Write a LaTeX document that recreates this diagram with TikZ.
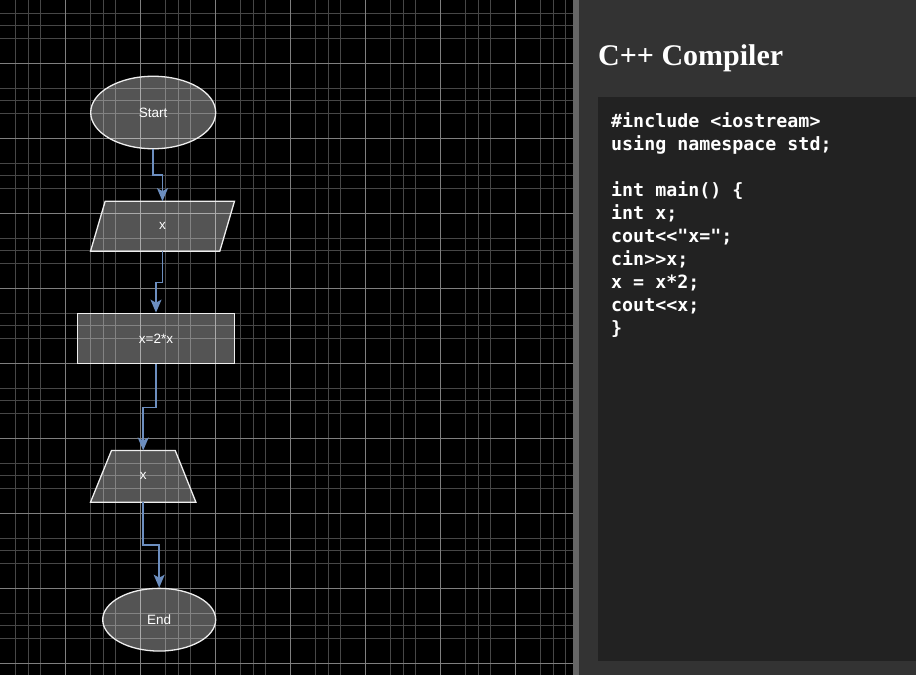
\documentclass[tikz,border=0pt]{standalone}
\usepackage{fontspec}
\setmainfont{Liberation Sans}
\newfontfamily\titlefont{Liberation Serif}
\newfontfamily\codefont{DejaVu Sans Mono}
\usetikzlibrary{arrows.meta,shapes.geometric,calc}
\definecolor{minorgrid}{HTML}{474747}
\definecolor{majorgrid}{HTML}{7F7F7F}
\definecolor{sepgray}{HTML}{666666}
\definecolor{panelgray}{HTML}{333333}
\definecolor{codebg}{HTML}{222222}
\definecolor{shapeline}{HTML}{EEEEEE}
\definecolor{connblue}{HTML}{6C8EBF}
\tikzset{
  shapebox/.style={draw=shapeline, line width=1.3pt, fill=white, fill opacity=0.33, text opacity=1, text=white, font=\fontsize{13.5}{15}\selectfont, inner sep=0pt},
  labelonly/.style={draw=none, text=white, font=\fontsize{13.5}{15}\selectfont, inner sep=0pt},
  conn/.style={draw=connblue, line width=1.6pt, -{Stealth[length=13pt,width=11pt,inset=3pt]}},
  codeline/.style={anchor=base west, inner sep=0pt, text=white, font=\codefont\bfseries\fontsize{18.3}{23}\selectfont},
  minorline/.style={minorgrid, line width=0.9pt},
  majorline/.style={majorgrid, line width=0.9pt},
}
\begin{document}
\begin{tikzpicture}[x=1pt,y=-1pt]
\useasboundingbox (0,0) rectangle (916,675);
\fill[black] (0,0) rectangle (573,675);
% grid
\begin{scope}
\clip (0,0) rectangle (573,675);
\foreach \k in {-1,...,7} {
  \foreach \d in {25,37.5,50} {
    \draw[minorline] (65.7+75*\k+\d,0) -- (65.7+75*\k+\d,675);
  }
}
\foreach \k in {-1,...,8} {
  \foreach \d in {25,37.5,50} {
    \draw[minorline] (0,63.3+75*\k+\d) -- (573,63.3+75*\k+\d);
  }
}
\foreach \k in {0,...,7} {
  \draw[majorline] (65.7+75*\k,0) -- (65.7+75*\k,675);
}
\foreach \k in {0,...,8} {
  \draw[majorline] (0,63.3+75*\k) -- (573,63.3+75*\k);
}
\end{scope}
% right panel
\fill[sepgray] (573,0) rectangle (579,675);
\fill[panelgray] (579,0) rectangle (916,675);
\fill[codebg] (598,97) rectangle (916,660.7);
\node[anchor=base west, inner sep=0pt, text=white, font=\titlefont\bfseries\fontsize{30}{36}\selectfont] (title) at (598,65) {C++ Compiler};
% code
\node[codeline] (c1) at (611,127) {\#include <iostream>};
\node[codeline] (c2) at (611,150) {using namespace std;};
\node[codeline] (c4) at (611,196) {int main() \{};
\node[codeline] (c5) at (611,219) {int x;};
\node[codeline] (c6) at (611,242) {cout<{}<"x=";};
\node[codeline] (c7) at (611,265) {cin>{}>x;};
\node[codeline] (c8) at (611,288) {x = x*2;};
\node[codeline] (c9) at (611,311) {cout<{}<x;};
\node[codeline] (c10) at (611,334) {\}};
% flowchart
\node[shapebox, ellipse, minimum width=125pt, minimum height=72.5pt] (start) at (153.2,112.5) {Start};
% parallelogram
\node[labelonly, minimum width=143.6pt, minimum height=49.7pt] (para) at (162.5,226.2) {};
\draw[shapeline, line width=1.3pt, fill=white, fill opacity=0.33]
  ($(para.north west)+(14.7,0)$) -- (para.north east) -- ($(para.south east)+(-14.7,0)$) -- (para.south west) -- cycle;
\node[labelonly] (paralabel) at (para.center) {x};
% process
\node[shapebox, rectangle, minimum width=156.6pt, minimum height=50pt] (proc) at (156,338.3) {x=2*x};
% trapezoid (output)
\node[labelonly, minimum width=105pt, minimum height=51.3pt] (out) at (143.2,476.3) {};
\draw[shapeline, line width=1.3pt, fill=white, fill opacity=0.33]
  ($(out.north west)+(21,0)$) -- ($(out.north east)+(-20.7,0)$) -- (out.south east) -- (out.south west) -- cycle;
\node[labelonly] (outlabel) at (out.center) {x};
% end
\node[shapebox, ellipse, minimum width=113pt, minimum height=62.7pt] (end) at (159.2,619.7) {End};
% connectors
\draw[conn] (start.south) -- (start.south |- 0,175) -- (para.north |- 0,175) -- (para.north);
\draw[conn] (para.south) -- (para.south |- 0,282.3) -- (proc.north |- 0,282.3) -- (proc.north);
\draw[conn] (proc.south) -- (proc.south |- 0,407.3) -- (out.north |- 0,407.3) -- (out.north);
\draw[conn] (out.south) -- (out.south |- 0,545) -- (end.north |- 0,545) -- (end.north);
\end{tikzpicture}
\end{document}
